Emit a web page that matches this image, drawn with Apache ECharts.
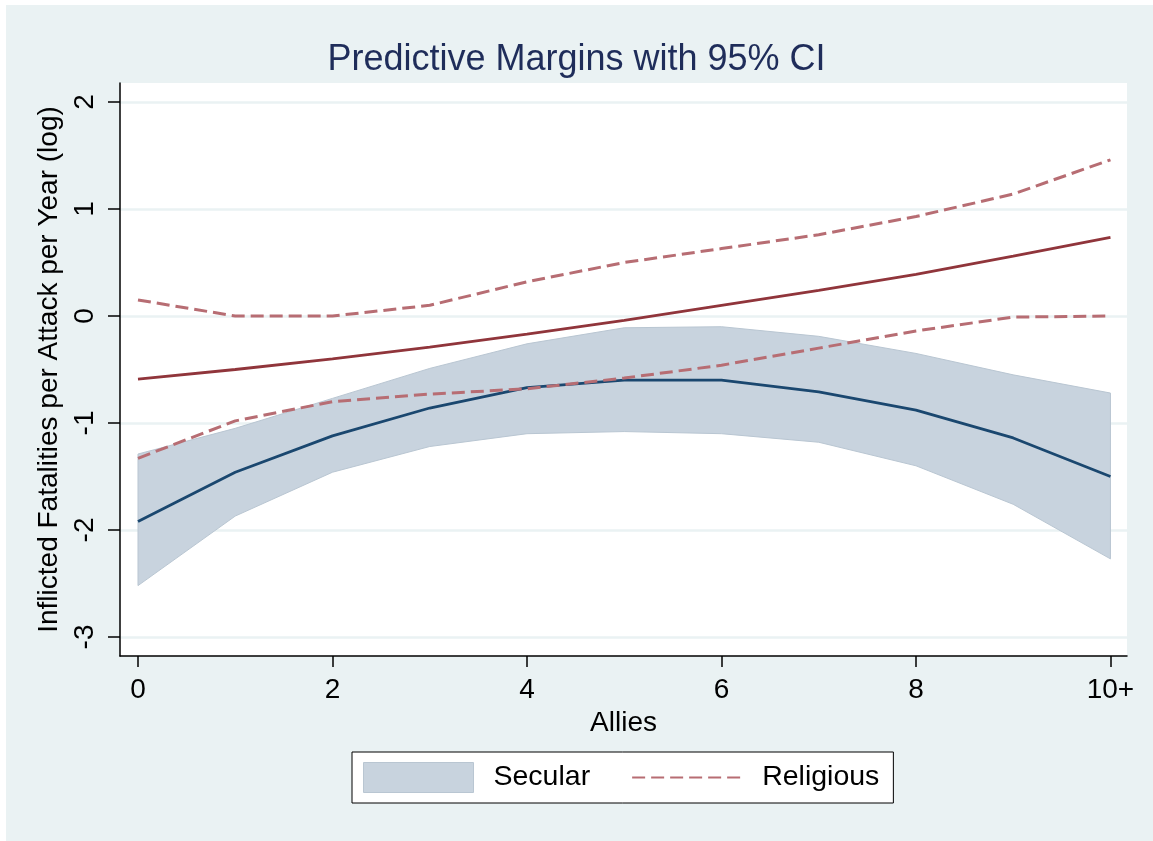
<!DOCTYPE html>
<html>
<head>
<meta charset="utf-8">
<script src="https://cdn.jsdelivr.net/npm/echarts@6/dist/echarts.min.js"></script>
<style>
html,body{margin:0;padding:0;background:#fff;}
#chart{width:1153px;height:841px;}
</style>
</head>
<body>
<div id="chart"></div>
<script>
// ---- data ----
var allies = [0, 1, 2, 3, 4, 5, 6, 7, 8, 9, 10];
var secularMean  = [-1.92, -1.46, -1.12, -0.86, -0.67, -0.60, -0.60, -0.71, -0.88, -1.14, -1.50];
var secularUpper = [-1.29, -1.05, -0.77, -0.49, -0.26, -0.11, -0.10, -0.19, -0.35, -0.55, -0.72];
var secularLower = [-2.52, -1.87, -1.46, -1.22, -1.10, -1.08, -1.10, -1.18, -1.40, -1.76, -2.27];
var religiousMean  = [-0.59, -0.50, -0.40, -0.29, -0.17, -0.04, 0.10, 0.24, 0.39, 0.56, 0.735];
var religiousUpper = [0.15, 0.00, 0.00, 0.10, 0.32, 0.50, 0.63, 0.76, 0.93, 1.14, 1.46];
var religiousLower = [-1.33, -0.98, -0.80, -0.73, -0.68, -0.58, -0.46, -0.30, -0.14, -0.01, 0.00];
var xTickValues = [0, 2, 4, 6, 8, 10];
var xTickLabels = ['0', '2', '4', '6', '8', '10+'];
var yTickValues = [-3, -2, -1, 0, 1, 2];
var yTickLabels = ['-3', '-2', '-1', '0', '1', '2'];

function pairs(ys) { return allies.map(function (x, i) { return [x, ys[i]]; }); }
var bandData = allies.map(function (x, i) { return [x, secularLower[i], secularUpper[i]]; });

var FONT = '"Liberation Sans", Arial, sans-serif';
var chart = echarts.init(document.getElementById('chart'));

var option = {
  backgroundColor: '#ffffff',
  animation: false,
  graphic: [{
    type: 'rect', z: -10, silent: true,
    shape: { x: 6, y: 5, width: 1153, height: 841 },
    style: { fill: '#eaf2f3' }
  }],
  title: {
    text: 'Predictive Margins with 95% CI',
    left: 'center', top: 37,
    textStyle: { fontFamily: FONT, fontSize: 36, fontWeight: 'normal', color: '#1f2d5a' }
  },
  legend: {
    left: 352, top: 752,
    orient: 'horizontal',
    backgroundColor: '#ffffff',
    borderColor: '#000000', borderWidth: 1, borderRadius: 0,
    padding: [10, 14, 10, 11],
    itemWidth: 110, itemHeight: 30, itemGap: 41,
    textStyle: { fontFamily: FONT, fontSize: 28.5, color: '#000', padding: [0, 0, 0, 15] },
    data: [
      { name: 'Secular', icon: 'rect', itemStyle: { color: '#c8d3de', borderColor: '#b9c6d2', borderWidth: 1 } },
      { name: 'Religious', itemStyle: { color: 'rgba(0,0,0,0)', borderWidth: 0, opacity: 0 } }
    ]
  },
  grid: {
    left: 120, top: 83, width: 1007, height: 573, containLabel: false,
    show: true, backgroundColor: '#ffffff', borderWidth: 0
  },
  xAxis: {
    type: 'value', min: -0.185, max: 10.17,
    name: 'Allies', nameLocation: 'middle', nameGap: 49,
    nameTextStyle: { fontFamily: FONT, fontSize: 28, color: '#000' },
    axisLine: { show: true, onZero: false, lineStyle: { color: '#000', width: 1.5 } },
    axisTick: { show: true, length: 11, lineStyle: { color: '#000', width: 1.5 }, customValues: xTickValues },
    axisLabel: {
      fontFamily: FONT, fontSize: 28, color: '#000', margin: 20,
      customValues: xTickValues,
      formatter: function (v) { var i = xTickValues.indexOf(v); return i >= 0 ? xTickLabels[i] : ''; }
    },
    splitLine: { show: false }
  },
  yAxis: {
    type: 'value', min: -3.178, max: 2.178,
    name: 'Inflicted Fatalities per Attack per Year (log)', nameLocation: 'middle', nameGap: 41,
    nameTextStyle: { fontFamily: FONT, fontSize: 28, color: '#000' },
    axisLine: { show: true, onZero: false, lineStyle: { color: '#000', width: 1.5 } },
    axisTick: { show: true, length: 12, lineStyle: { color: '#000', width: 1.5 }, customValues: yTickValues },
    axisLabel: {
      fontFamily: FONT, fontSize: 28, color: '#000', margin: 21, rotate: 90,
      customValues: yTickValues,
      formatter: function (v) { var i = yTickValues.indexOf(v); return i >= 0 ? yTickLabels[i] : ''; }
    },
    splitLine: { show: true, lineStyle: { color: '#eaf2f3', width: 2.5 } }
  },
  series: [
    {
      name: 'Secular', type: 'custom', z: 1,
      itemStyle: { color: '#c8d3de' },
      data: bandData,
      renderItem: function (params, api) {
        if (params.dataIndex !== 0) return null;
        var top = [], bot = [];
        for (var i = 0; i < bandData.length; i++) {
          top.push(api.coord([bandData[i][0], bandData[i][2]]));
          bot.push(api.coord([bandData[i][0], bandData[i][1]]));
        }
        var pts = top.concat(bot.reverse());
        return {
          type: 'polygon',
          shape: { points: pts },
          style: { fill: '#c8d3de', stroke: '#b9c6d2', lineWidth: 1 }
        };
      },
      encode: { x: 0, y: [1, 2] }
    },
    {
      name: 'SecularMean', type: 'line', z: 3, symbol: 'none',
      data: pairs(secularMean),
      lineStyle: { color: '#1a476f', width: 2.8 }
    },
    {
      name: 'ReligiousMean', type: 'line', z: 3, symbol: 'none',
      data: pairs(religiousMean),
      lineStyle: { color: '#90353b', width: 2.8 }
    },
    {
      name: 'Religious', type: 'line', z: 4, symbol: 'none',
      itemStyle: { color: '#b76d73' },
      data: pairs(religiousUpper),
      lineStyle: { color: '#b76d73', width: 3, type: [13, 6] }
    },
    {
      name: 'ReligiousLowerCI', type: 'line', z: 4, symbol: 'none',
      data: pairs(religiousLower),
      lineStyle: { color: '#b76d73', width: 3, type: [13, 6] }
    }
  ]
};
chart.setOption(option);
</script>
</body>
</html>
